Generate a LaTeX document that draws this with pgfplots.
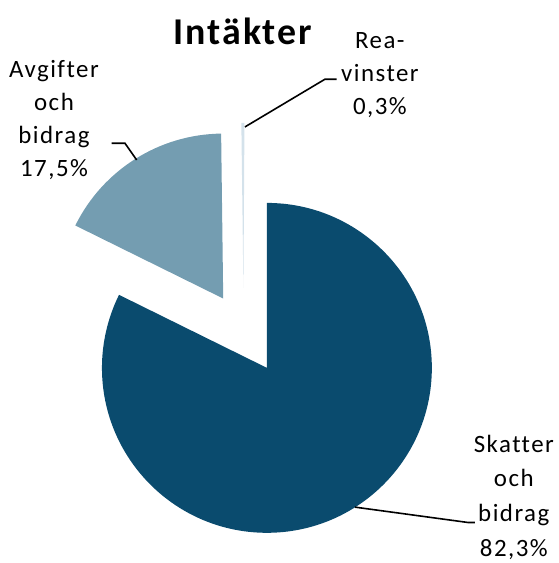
\documentclass[border=0pt]{standalone}
\usepackage{fontspec}
\setmainfont{Carlito}[Ligatures=NoCommon]
\usepackage{pgfplots}
\usepackage{pgfplotstable}
\pgfplotsset{compat=1.18}
\definecolor{skatt}{RGB}{10,75,110}
\definecolor{avgift}{RGB}{116,157,177}
\definecolor{rea}{RGB}{212,226,235}
\tikzset{lbl/.style={anchor=base, font=\fontsize{25}{29}\selectfont\addfontfeature{LetterSpace=6}}}

% andel av intäkterna i procent
\pgfplotstableread{
post andel
Skatter 82.3
Avgifter 17.5
Rea 0.3
}\intakter

\begin{document}
\begin{tikzpicture}
\pgfplotstablegetelem{0}{andel}\of\intakter \pgfmathsetmacro\aA{90-3.6*\pgfplotsretval}
\pgfplotstablegetelem{1}{andel}\of\intakter \pgfmathsetmacro\aB{\aA-3.6*\pgfplotsretval}
\pgfplotstablegetelem{2}{andel}\of\intakter \pgfmathsetmacro\aC{\aB-3.6*\pgfplotsretval}
\pgfmathsetmacro\mB{(\aA+\aB)/2}
\begin{axis}[
    hide axis,
    x=1bp, y=1bp,
    xmin=0, xmax=559, ymin=0, ymax=563,
    clip=false,
    at={(0,0)}, anchor=south west,
]
\path (axis cs:0,0) rectangle (axis cs:559,563);
% skivor
\fill[skatt] (axis cs:267,195) -- ++(90:165bp)
    arc[start angle=90, end angle=\aA, radius=165bp] -- cycle;
\fill[avgift] (axis cs:267,195) ++(\mB:82bp) -- ++(\aA:165bp)
    arc[start angle=\aA, end angle=\aB, radius=165bp] -- cycle;
\fill[rea] (axis cs:267,195) ++(-23.5bp,80bp) -- ++(\aB:165bp)
    arc[start angle=\aB, end angle=\aC, radius=165bp] -- cycle;
% hänvisningslinjer
\draw[line width=1.6bp] (axis cs:245,436) -- (axis cs:325,483.7) -- (axis cs:336.7,483.7);
\draw[line width=1.6bp] (axis cs:136.7,403) -- (axis cs:125,419.7) -- (axis cs:111.7,419.7);
\draw[line width=1.6bp] (axis cs:355,55.7) -- (axis cs:468.3,40.3) -- (axis cs:475,40.3);
% etiketter
\node[anchor=base, font=\fontsize{38}{40}\selectfont\bfseries\addfontfeature{LetterSpace=5}] at (axis cs:243,518) {Intäkter};
\node[lbl] at (axis cs:380,514) {Rea-};
\node[lbl] at (axis cs:380,481) {vinster};
\node[lbl] at (axis cs:380,448) {0,3\%};
\node[lbl] at (axis cs:54,485) {Avgifter};
\node[lbl] at (axis cs:54,452) {och};
\node[lbl] at (axis cs:54,419) {bidrag};
\node[lbl] at (axis cs:54,386) {17,5\%};
\node[lbl] at (axis cs:514,110) {Skatter};
\node[lbl] at (axis cs:514,76.3) {och};
\node[lbl] at (axis cs:514,41.3) {bidrag};
\node[lbl] at (axis cs:514,6.3) {82,3\%};
\end{axis}
\end{tikzpicture}
\end{document}
